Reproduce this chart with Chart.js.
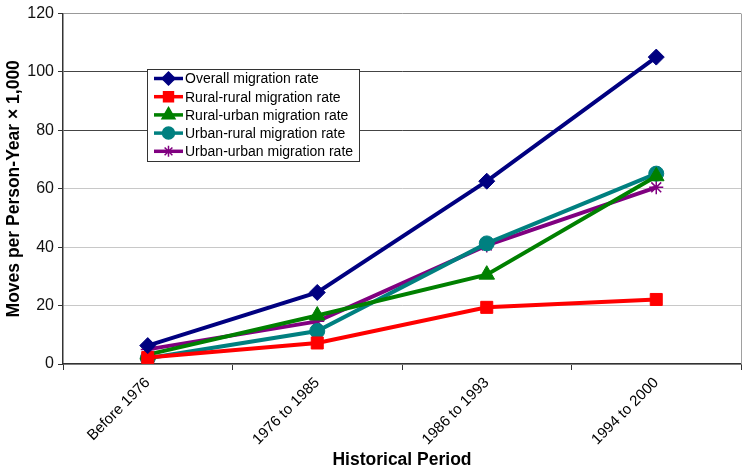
<!DOCTYPE html>
<html><head><meta charset="utf-8">
<script src="https://cdn.jsdelivr.net/npm/chart.js@4/dist/chart.umd.min.js"></script>
<style>html,body{margin:0;padding:0;background:#fff}#wrap{width:751px;height:474px}</style>
</head><body><div id="wrap"><canvas id="c" width="751" height="474"></canvas></div>
<script>
const categories = ["Before 1976", "1976 to 1985", "1986 to 1993", "1994 to 2000"];
const overall = [6.3, 24.5, 62.6, 105.1];
const ruralRural = [2.2, 7.2, 19.4, 22.1];
const ruralUrban = [3.2, 16.6, 30.6, 64.3];
const urbanRural = [2.0, 11.3, 41.3, 65.2];
const urbanUrban = [5.0, 14.6, 40.6, 60.5];
const yTicks = [0, 20, 40, 60, 80, 100, 120];
const seriesNames = ["Overall migration rate", "Rural-rural migration rate", "Rural-urban migration rate", "Urban-rural migration rate", "Urban-urban migration rate"];

const colors = ["#000080", "#FF0000", "#008000", "#008080", "#800080"];
const styles = ["rectRot", "rect", "triangle", "circle", "star"];
const radii = [8, 8.5, 9, 7.5, 7];
const values = [overall, ruralRural, ruralUrban, urbanRural, urbanUrban];

const datasets = values.map((v, i) => ({
  label: seriesNames[i], data: v, borderColor: colors[i], backgroundColor: colors[i],
  borderWidth: 4, pointStyle: styles[i], pointRadius: radii[i], pointHoverRadius: radii[i],
  pointBorderColor: colors[i], pointBackgroundColor: colors[i], pointBorderWidth: i === 4 ? 1.5 : 1,
  tension: 0, fill: false
}));

const FONT = 'Arial, "Liberation Sans", sans-serif';

const legendPlugin = {
  id: 'boxLegend',
  afterDraw(chart) {
    const ctx = chart.ctx; const ca = chart.chartArea;
    ctx.save();
    ctx.strokeStyle = '#a0a0a0'; ctx.lineWidth = 1;
    ctx.beginPath(); ctx.moveTo(ca.right + 0.5, ca.top); ctx.lineTo(ca.right + 0.5, ca.bottom); ctx.stroke();
    const x = 147, y = 69.5, w = 212, h = 92;
    ctx.fillStyle = '#fff'; ctx.fillRect(x, y, w, h);
    ctx.strokeStyle = '#333'; ctx.lineWidth = 1; ctx.strokeRect(x + 0.5, y, w, h);
    ctx.font = '14px ' + FONT; ctx.textBaseline = 'middle'; ctx.textAlign = 'left';
    seriesNames.forEach((n, i) => {
      const yy = 78.5 + i * 18.2;
      ctx.strokeStyle = colors[i]; ctx.lineWidth = 3.5;
      ctx.beginPath(); ctx.moveTo(154, yy); ctx.lineTo(183, yy); ctx.stroke();
      ctx.fillStyle = colors[i]; ctx.strokeStyle = colors[i]; ctx.lineWidth = 1.5;
      Chart.helpers.drawPoint(ctx, { pointStyle: styles[i], radius: radii[i] - 1.5, borderWidth: 1.5 }, 168.5, yy);
      ctx.fillStyle = '#000';
      ctx.fillText(n, 185, yy + 1);
    });
    ctx.restore();
  }
};

new Chart(document.getElementById('c'), {
  type: 'line',
  data: { labels: categories, datasets },
  options: {
    responsive: false, animation: false, devicePixelRatio: 1,
    layout: { padding: { top: 12, right: 9, left: 4, bottom: 0 } },
    plugins: { legend: { display: false }, tooltip: { enabled: false } },
    scales: {
      x: {
        offset: true,
        grid: { offset: true, drawOnChartArea: false, drawTicks: true, tickLength: 6, color: '#333' },
        border: { color: '#333', width: 1.5 },
        ticks: { minRotation: 45, maxRotation: 45, color: '#000', font: { family: FONT, size: 15 }, padding: 4 },
        title: { display: true, text: 'Historical Period', color: '#000', font: { family: FONT, size: 17.5, weight: 'bold' }, padding: { top: 0, bottom: 3 } },
        afterFit(s) { s.height = 110; }
      },
      y: {
        min: 0, max: 120,
        afterBuildTicks(s) { s.ticks = yTicks.map(v => ({ value: v })); },
        grid: {
          color: c => (c.tick && (c.tick.value === 80 || c.tick.value === 100)) ? '#444' : (c.tick && c.tick.value === 120 ? '#999' : '#c8c8c8'),
          lineWidth: 1, tickLength: 5, tickColor: '#333'
        },
        border: { color: '#333', width: 1.5 },
        ticks: { color: '#111', font: { family: FONT, size: 16 }, padding: 4 },
        title: { display: true, text: 'Moves per Person-Year × 1,000', color: '#000', font: { family: FONT, size: 17.5, weight: 'bold' }, padding: { top: 0, bottom: 2 } },
        afterFit(s) { s.width = 59; }
      }
    }
  },
  plugins: [legendPlugin]
});
</script>
</body></html>
